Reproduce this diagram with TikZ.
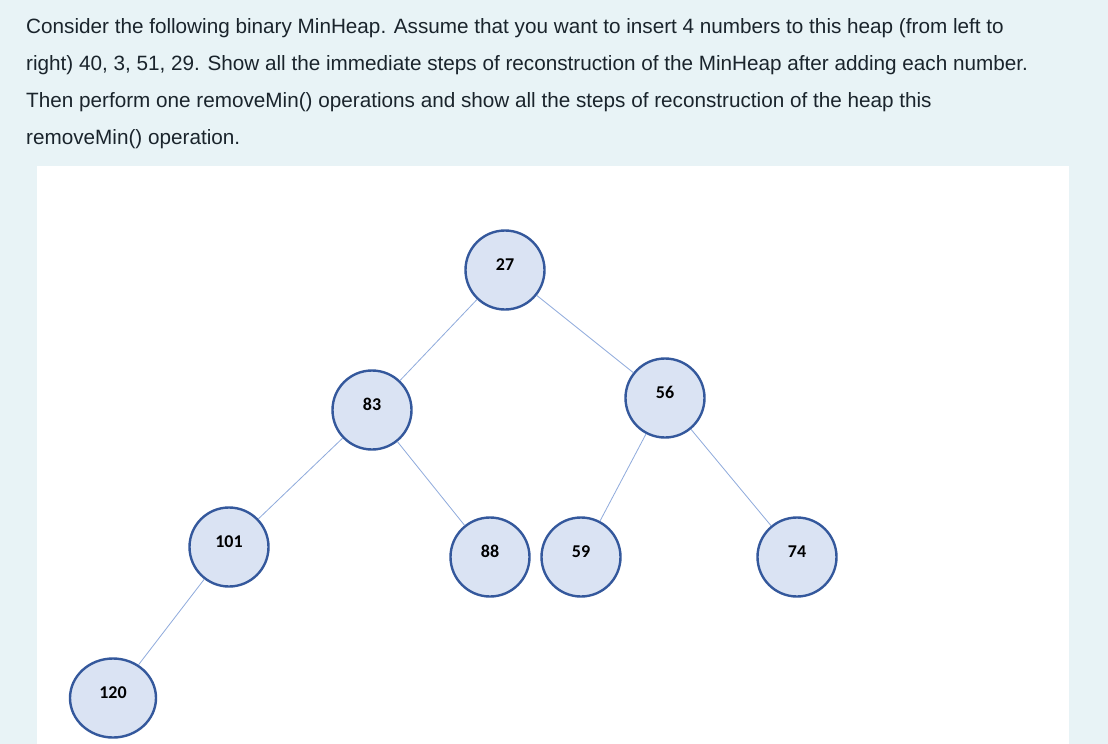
\documentclass[tikz,border=0pt]{standalone}
\usepackage{fontspec}
\setmainfont{Liberation Sans}
\newfontfamily\carlito{Carlito}
\usetikzlibrary{shapes.geometric}
\definecolor{pagebg}{HTML}{E8F3F6}
\definecolor{textcol}{HTML}{1A242C}
\definecolor{nodefill}{HTML}{DAE3F3}
\definecolor{nodeborder}{HTML}{34589C}
\definecolor{linkcol}{HTML}{8FAADC}
\tikzstyle{heapnode} = [ellipse, draw=nodeborder, fill=nodefill, line width=2.4pt, minimum width=79pt,
    minimum height=79pt, inner sep=0pt, font=\carlito\bfseries\fontsize{18}{18}\selectfont,
    text height=12pt, text depth=12pt]
\tikzstyle{link} = [draw=linkcol, line width=0.8pt]
\tikzstyle{para} = [anchor=base west, inner sep=0pt, text=textcol, font=\fontsize{20.7}{20.7}\selectfont]

\begin{document}
\begin{tikzpicture}[x=1pt, y=-1pt]
  \fill[pagebg] (0,0) rectangle (1108,744);
  \fill[white] (37,166) rectangle (1069,744);
  \useasboundingbox (0,0) rectangle (1108,744);

  % question text
  \node (line1) [para] at (26,33) {Consider the following binary MinHeap. Assume that you want to insert 4 numbers to this heap (from left to};
  \node (line2) [para] at (26,70) {right) 40, 3, 51, 29. Show all the immediate steps of reconstruction of the MinHeap after adding each number.};
  \node (line3) [para] at (26,107) {Then perform one removeMin() operations and show all the steps of reconstruction of the heap this};
  \node (line4) [para] at (26,144) {removeMin() operation.};

  % the heap
  \node (n27)  [heapnode] at (505,270) {27};
  \node (n83)  [heapnode] at (372,410) {83};
  \node (n56)  [heapnode] at (665,398) {56};
  \node (n101) [heapnode] at (229,547) {101};
  \node (n88)  [heapnode] at (490,557) {88};
  \node (n59)  [heapnode] at (581,557) {59};
  \node (n74)  [heapnode] at (797,557) {74};
  \node (n120) [heapnode, minimum width=86pt] at (113,698) {120};

  \draw[link] (n27)  -- (n83);
  \draw[link] (n27)  -- (n56);
  \draw[link] (n83)  -- (n101);
  \draw[link] (n83)  -- (n88);
  \draw[link] (n56)  -- (n59);
  \draw[link] (n56)  -- (n74);
  \draw[link] (n101) -- (n120);
\end{tikzpicture}
\end{document}
